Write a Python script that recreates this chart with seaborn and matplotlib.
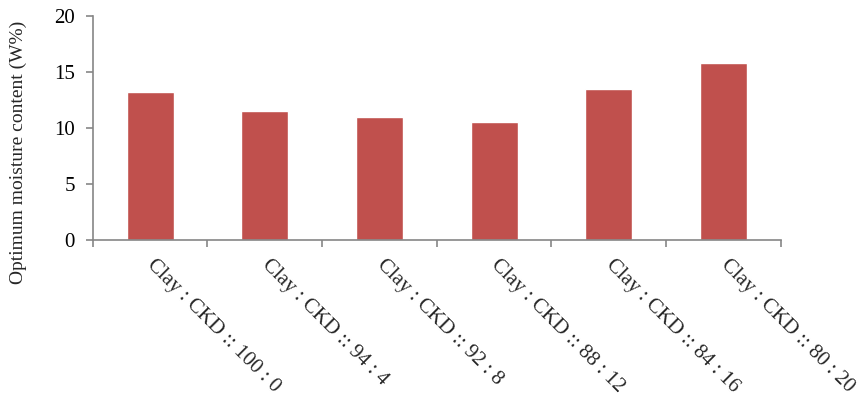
import matplotlib
matplotlib.use("Agg")
import matplotlib.pyplot as plt
import seaborn as sns
import pandas as pd
import numpy as np

categories = ["Clay : CKD :: 100 : 0", "Clay : CKD :: 94 : 4", "Clay : CKD :: 92 : 8",
              "Clay : CKD :: 88 : 12", "Clay : CKD :: 84 : 16", "Clay : CKD :: 80 : 20"]
omc = [13.2, 11.5, 11.0, 10.5, 13.5, 15.8]
y_ticks = [0, 5, 10, 15, 20]

sns.set_theme(style="white")
plt.rcParams["font.family"] = ["Liberation Serif", "DejaVu Serif"]

df = pd.DataFrame({"mix": categories, "omc": omc})

fig = plt.figure(figsize=(8.59, 3.99), dpi=100)
ax = fig.add_axes([0.108, 0.3985, 0.801, 0.5615])

sns.barplot(data=df, x="mix", y="omc", color="#C0504D", saturation=1,
            width=0.41, ax=ax)

spine_c = "#868686"
for side in ["top", "right"]:
    ax.spines[side].set_visible(False)
for side in ["left", "bottom"]:
    ax.spines[side].set_color(spine_c)
    ax.spines[side].set_linewidth(1.2)

ax.set_xlim(-0.5, len(categories) - 0.5)
ax.set_ylim(0, 20)
ax.set_yticks(y_ticks)
ax.set_yticklabels([str(t) for t in y_ticks], fontsize=15)
ax.tick_params(axis="y", direction="out", length=5, color=spine_c, width=1.2,
               left=True, pad=8, labelcolor="black")

# category boundaries carry the tick marks; labels sit at the centers
ax.set_xticks(np.arange(-0.5, len(categories), 1.0), minor=True)
ax.tick_params(axis="x", which="minor", direction="out", length=5, color=spine_c,
               width=1.2, bottom=True)
ax.tick_params(axis="x", which="major", length=0, pad=16)
ax.set_xticks(range(len(categories)))
ax.set_xticklabels(categories, rotation=-45, ha="left", va="center",
                   rotation_mode="anchor", fontsize=15)

ax.set_xlabel("")
ax.set_ylabel("Optimum moisture content (W%)", fontsize=14)
ax.yaxis.set_label_coords(-0.095, 0.39)

fig.savefig("out.png", dpi=100)
